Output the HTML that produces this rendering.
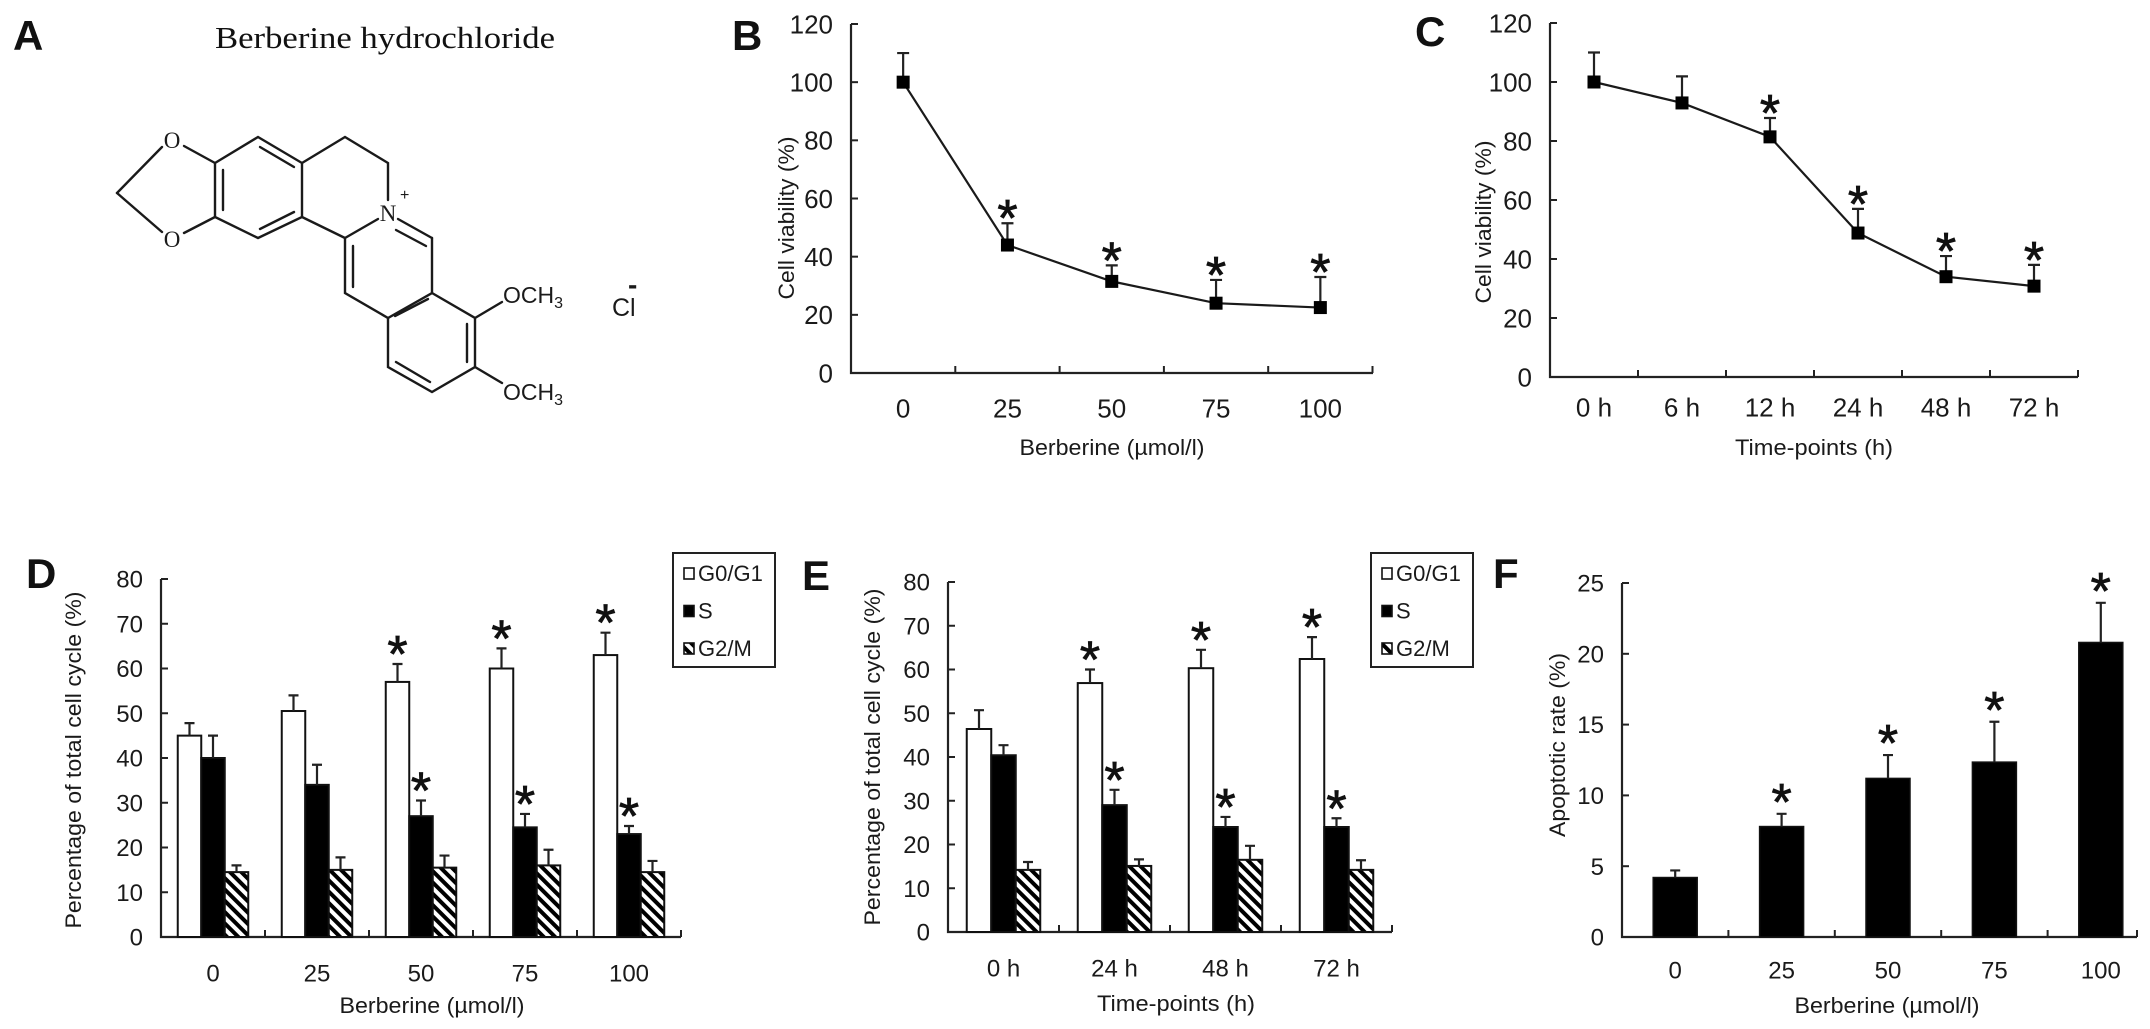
<!DOCTYPE html>
<html><head><meta charset="utf-8"><style>
html,body{margin:0;padding:0;background:#fff;}
svg{display:block;font-family:"Liberation Sans",Arial,sans-serif;}
</style></head><body>
<svg id="fig" width="2150" height="1029" viewBox="0 0 2150 1029" xmlns="http://www.w3.org/2000/svg">
<defs>
<pattern id="hatch" patternUnits="userSpaceOnUse" width="8" height="8" patternTransform="rotate(-45)">
<rect width="8" height="8" fill="#fff"/><rect width="4" height="8" fill="#000"/>
</pattern>
</defs>
<rect width="2150" height="1029" fill="#fff"/>
<g>
<text x="13" y="50" font-size="42" font-weight="bold" fill="#111">A</text>
<text x="215" y="48" font-family="Liberation Serif, serif" font-size="31" textLength="340" lengthAdjust="spacingAndGlyphs" fill="#111">Berberine hydrochloride</text>
<g stroke="#1a1a1a" stroke-width="2.4" fill="none" stroke-linecap="round">
<line x1="117" y1="193" x2="162" y2="147"/>
<line x1="117" y1="193" x2="162" y2="232"/>
<line x1="184" y1="146" x2="215" y2="163"/>
<line x1="184" y1="233" x2="215" y2="217"/>
<polyline points="215,163 258,137 302,163 302,217 258,238 215,217 215,163"/>
<line x1="223" y1="170" x2="223" y2="210"/>
<line x1="260" y1="147" x2="294" y2="167"/>
<line x1="260" y1="229" x2="294" y2="212"/>
<polyline points="302,163 345,137 388,163 388,200"/>
<line x1="378" y1="219" x2="345" y2="238"/>
<line x1="345" y1="238" x2="302" y2="217"/>
<line x1="398" y1="219" x2="432" y2="238"/>
<line x1="396" y1="230" x2="426" y2="246"/>
<polyline points="432,238 432,293 388,318 345,293 345,238"/>
<line x1="353" y1="246" x2="353" y2="287"/>
<polyline points="432,293 475,318 475,367 432,392 388,367 388,318"/>
<line x1="395" y1="316" x2="428" y2="299"/>
<line x1="467" y1="324" x2="467" y2="362"/>
<line x1="396" y1="362" x2="430" y2="382"/>
<line x1="475" y1="318" x2="502" y2="302"/>
<line x1="475" y1="367" x2="502" y2="383"/>
</g>
<g fill="#1a1a1a" font-size="23">
<text x="172" y="148" text-anchor="middle" font-family="Liberation Serif, serif">O</text>
<text x="172" y="247" text-anchor="middle" font-family="Liberation Serif, serif">O</text>
<text x="388" y="221" text-anchor="middle" font-family="Liberation Serif, serif">N</text>
<text x="400" y="200" font-size="16">+</text>
<text x="503" y="303">OCH<tspan font-size="16" dy="5">3</tspan></text>
<text x="503" y="400">OCH<tspan font-size="16" dy="5">3</tspan></text>
<text x="612" y="316" font-size="25">Cl</text>
<text x="628" y="294" font-size="28" font-weight="bold">-</text>
</g>
</g>
<g id="charts"></g>
</svg>
<script>
const bCats = ['0','25','50','75','100'];
const bVals = [100,44,31.5,24,22.5];
const bErr  = [10,7.5,5.5,8,10.5];
const bStar = [0,1,1,1,1];
const bTicks = [0,20,40,60,80,100,120];

const cCats = ['0 h','6 h','12 h','24 h','48 h','72 h'];
const cVals = [100,92.9,81.4,48.8,34,30.8];
const cErr  = [10,9,6.4,8.2,7,7.2];
const cStar = [0,0,1,1,1,1];
const cTicks = [0,20,40,60,80,100,120];

const dCats = ['0','25','50','75','100'];
const dG0 = [45,50.5,57,60,63];
const dG0Err = [2.8,3.5,4,4.5,5];
const dS = [40,34,27,24.5,23];
const dSErr = [5,4.5,3.5,3,1.8];
const dG2 = [14.5,15,15.5,16,14.5];
const dG2Err = [1.5,2.8,2.7,3.5,2.5];
const dG0Star = [0,0,1,1,1];
const dSStar = [0,0,1,1,1];
const dTicks = [0,10,20,30,40,50,60,70,80];

const eCats = ['0 h','24 h','48 h','72 h'];
const eG0 = [46.4,56.9,60.3,62.4];
const eG0Err = [4.3,3.1,4.2,5];
const eS = [40.4,29,24,24];
const eSErr = [2.3,3.5,2.3,2];
const eG2 = [14.2,15.1,16.5,14.2];
const eG2Err = [1.8,1.5,3.2,2.2];
const eG0Star = [0,1,1,1];
const eSStar = [0,1,1,1];
const eTicks = [0,10,20,30,40,50,60,70,80];

const fCats = ['0','25','50','75','100'];
const fVals = [4.2,7.8,11.2,12.35,20.8];
const fErr  = [0.5,0.9,1.65,2.85,2.8];
const fStar = [0,1,1,1,1];
const fTicks = [0,5,10,15,20,25];

const legendLabels = ['G0/G1','S','G2/M'];

const NS = 'http://www.w3.org/2000/svg';
const root = document.getElementById('charts');
function mk(tag, a, p) {
  const e = document.createElementNS(NS, tag);
  for (const k in a) e.setAttribute(k, a[k]);
  (p || root).appendChild(e);
  return e;
}

function axes(g, c) {
  const ys = v => c.y0 - (v / c.max) * (c.y0 - c.yTop);
  const xs = i => c.x0 + c.catW * (i + 0.5);
  const ax = mk('path', {d:`M${c.x0},${c.yTop} L${c.x0},${c.y0} L${c.x1},${c.y0}`, stroke:'#222', 'stroke-width':2.2, fill:'none'}, g);
  
  
  c.ticks.forEach(v => {
    const t = mk('line', {x1:c.x0, x2:c.x0+7, y1:ys(v), y2:ys(v), stroke:'#222', 'stroke-width':2}, g);
    
    
    const l = mk('text', {x:c.x0-18, y:ys(v)+c.fs*0.36, 'text-anchor':'end', 'font-size':c.fs, fill:'#1a1a1a'}, g);
    l.textContent = v;
    
    
  });
  for (let i = 1; i <= c.cats.length; i++) {
    const tx = Math.min(c.x0 + c.catW * i, c.x1);
    const t = mk('line', {x1:tx, x2:tx, y1:c.y0, y2:c.y0-7, stroke:'#222', 'stroke-width':2}, g);
    
    
  }
  c.cats.forEach((s, i) => {
    const l = mk('text', {x:xs(i), y:c.labelY+c.fs*0.36, 'text-anchor':'middle', 'font-size':c.fs, fill:'#1a1a1a'}, g);
    l.textContent = s;
    
    
  });
  const xt = mk('text', {x:c.xtX, y:c.xtY+8, 'text-anchor':'middle', 'font-size':22, fill:'#1a1a1a', textLength:c.xtLen, lengthAdjust:'spacingAndGlyphs'}, g);
  xt.textContent = c.xTitle;
  
  
  const yt = mk('text', {x:0, y:0, 'text-anchor':'middle', 'font-size':22, fill:'#1a1a1a', transform:`translate(${c.ytX+8},${c.ytY}) rotate(-90)`, textLength:c.ytLen, lengthAdjust:'spacingAndGlyphs'}, g);
  yt.textContent = c.yTitle;
  
  
  const L = mk('text', {x:c.letterX, y:c.letterY, 'font-size':42, 'font-weight':'bold', fill:'#111'}, g);
  L.textContent = c.letter;
  
  
  return {ys, xs};
}

function star(g, x, y, name) {
  const s = mk('text', {x:x, y:y+32, 'text-anchor':'middle', 'font-size':52, fill:'#111', stroke:'#111', 'stroke-width':0.8}, g);
  s.textContent = '*';
  
  
}

function errBar(g, x, yv, ye, cap, name) {
  const e = mk('path', {d:`M${x},${yv} L${x},${ye} M${x-cap},${ye} L${x+cap},${ye}`, stroke:'#222', 'stroke-width':2.2, fill:'none'}, g);
  
  
}

function lineChart(c, vals, errs, stars) {
  const g = mk('g', {});
  
  
  const s = axes(g, c);
  vals.forEach((v, i) => errBar(g, s.xs(i), s.ys(v), s.ys(v + errs[i]), 6, c.id + '-error-bar'));
  const pts = vals.map((v, i) => s.xs(i) + ',' + s.ys(v)).join(' ');
  const ln = mk('polyline', {points:pts, stroke:'#1a1a1a', 'stroke-width':2.2, fill:'none'}, g);
  
  
  vals.forEach((v, i) => {
    const m = mk('rect', {x:s.xs(i)-6.5, y:s.ys(v)-6.5, width:13, height:13, fill:'#000'}, g);
    
    
    if (stars[i]) star(g, s.xs(i), s.ys(v + errs[i]) - 19, c.id + '-significance-star');
  });
}

function groupedChart(c, series, errs, starsArr) {
  const g = mk('g', {});
  
  
  const s = axes(g, c);
  const fills = ['#fff', '#000', 'url(#hatch)'];
  const names = ['g0g1', 's-phase', 'g2m'];
  series.forEach((vals, k) => {
    vals.forEach((v, i) => {
      const x = s.xs(i) - 1.5 * c.bw + k * c.bw;
      const b = mk('rect', {x:x, y:s.ys(v), width:c.bw, height:c.y0 - s.ys(v), fill:fills[k], stroke:'#111', 'stroke-width':2}, g);
      
      
      const ye = s.ys(v + errs[k][i]);
      errBar(g, x + c.bw/2, s.ys(v), ye, 5, c.id + '-error-bar');
      if (starsArr[k] && starsArr[k][i]) star(g, x + c.bw/2, ye - 24, c.id + '-significance-star');
    });
  });
  const lg = mk('g', {}, g);
  
  
  const box = mk('rect', {x:c.legX, y:553, width:102, height:114, fill:'#fff', stroke:'#222', 'stroke-width':2}, lg);
  
  
  legendLabels.forEach((lab, k) => {
    const cy = 573 + k * 37.5;
    const sw = mk('rect', {x:c.legX+11, y:cy-5, width:10, height:11, fill:fills[k], stroke:'#111', 'stroke-width':1.6}, lg);
    
    
    const t = mk('text', {x:c.legX+25, y:cy+8, 'font-size':22, fill:'#1a1a1a'}, lg);
    t.textContent = lab;
    
    
  });
}

function barChart(c, vals, errs, stars) {
  const g = mk('g', {});
  
  
  const s = axes(g, c);
  vals.forEach((v, i) => {
    const b = mk('rect', {x:s.xs(i)-c.bw/2, y:s.ys(v), width:c.bw, height:c.y0 - s.ys(v), fill:'#000', stroke:'#111', 'stroke-width':1.5}, g);
    
    
    const ye = s.ys(v + errs[i]);
    errBar(g, s.xs(i), s.ys(v), ye, 5, c.id + '-error-bar');
    if (stars[i]) star(g, s.xs(i), ye - 26, c.id + '-significance-star');
  });
}

lineChart({id:'panel-b', x0:851, x1:1373, y0:373, yTop:24, max:120, ticks:bTicks, cats:bCats, catW:104.3, fs:26,
  labelY:408, xTitle:'Berberine (µmol/l)', xtX:1112, xtY:447, xtLen:185,
  yTitle:'Cell viability (%)', ytX:786, ytY:218, ytLen:163, letter:'B', letterX:732, letterY:50}, bVals, bErr, bStar);

lineChart({id:'panel-c', x0:1550, x1:2078, y0:377, yTop:23, max:120, ticks:cTicks, cats:cCats, catW:88, fs:26,
  labelY:407, xTitle:'Time-points (h)', xtX:1814, xtY:447, xtLen:158,
  yTitle:'Cell viability (%)', ytX:1483, ytY:222, ytLen:163, letter:'C', letterX:1415, letterY:46}, cVals, cErr, cStar);

groupedChart({id:'panel-d', x0:161, x1:681, y0:937, yTop:579, max:80, ticks:dTicks, cats:dCats, catW:104, fs:24, bw:23.5,
  labelY:973, xTitle:'Berberine (µmol/l)', xtX:432, xtY:1005, xtLen:185,
  yTitle:'Percentage of total cell cycle (%)', ytX:73, ytY:760, ytLen:337, letter:'D', letterX:26, letterY:588, legX:673},
  [dG0, dS, dG2], [dG0Err, dSErr, dG2Err], [dG0Star, dSStar, null]);

groupedChart({id:'panel-e', x0:948, x1:1392, y0:932, yTop:582, max:80, ticks:eTicks, cats:eCats, catW:111, fs:24, bw:24.5,
  labelY:968, xTitle:'Time-points (h)', xtX:1176, xtY:1003, xtLen:158,
  yTitle:'Percentage of total cell cycle (%)', ytX:872, ytY:757, ytLen:337, letter:'E', letterX:802, letterY:590, legX:1371},
  [eG0, eS, eG2], [eG0Err, eSErr, eG2Err], [eG0Star, eSStar, null]);

barChart({id:'panel-f', x0:1622, x1:2137, y0:937, yTop:583, max:25, ticks:fTicks, cats:fCats, catW:106.4, fs:24, bw:44,
  labelY:970, xTitle:'Berberine (µmol/l)', xtX:1887, xtY:1005, xtLen:185,
  yTitle:'Apoptotic rate (%)', ytX:1557, ytY:745, ytLen:184, letter:'F', letterX:1493, letterY:588}, fVals, fErr, fStar);
</script>
</body></html>
